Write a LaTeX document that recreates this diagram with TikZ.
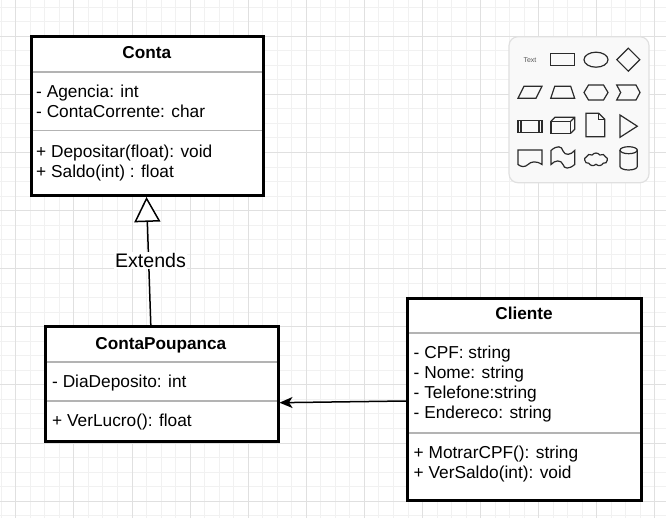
\documentclass[tikz,border=0pt]{standalone}
\usepackage{fontspec}
\setmainfont{Liberation Sans}
\usetikzlibrary{arrows.meta,shapes.symbols}
\definecolor{gminor}{HTML}{F1F1F1}
\definecolor{gmajor}{HTML}{E0E0E0}
\definecolor{sepc}{HTML}{B3B3B3}
\definecolor{iconc}{HTML}{2B2B2B}
\definecolor{palfill}{HTML}{F9F9F9}
\definecolor{palline}{HTML}{E0E0E0}
\begin{document}
\begin{tikzpicture}[x=1pt,y=-1pt,
  minorline/.style={gminor, line width=1pt},
  majorline/.style={gmajor, line width=1pt},
  classbox/.style={draw=black, line width=3pt, fill=white, inner sep=0pt},
  sepline/.style={sepc, line width=1.6pt},
  txt/.style={inner sep=0pt, anchor=base west, font=\fontsize{17.3}{20}\selectfont},
  ttl/.style={inner sep=0pt, anchor=base, font=\fontsize{17.2}{20}\selectfont\bfseries},
  conn/.style={black, line width=1.5pt},
  icn/.style={draw=iconc, line width=1.2pt, line join=miter}
]
\useasboundingbox (0,0) rectangle (666,518);
\fill[white] (0,0) rectangle (666,518);
% grid
\foreach \i in {0,...,45} { \draw[minorline] ({1.3+14.525*\i},0) -- ({1.3+14.525*\i},518); }
\foreach \j in {0,...,35} { \draw[minorline] (0,{7.25+14.525*\j}) -- (666,{7.25+14.525*\j}); }
\foreach \k in {0,...,11} { \draw[majorline] ({15.8+58.1*\k},0) -- ({15.8+58.1*\k},518); }
\foreach \k in {0,...,8} { \draw[majorline] (0,{36.3+58.1*\k}) -- (666,{36.3+58.1*\k}); }

% palette
\draw[palline, line width=1.2pt, fill=palfill, rounded corners=9pt] (509,36.7) rectangle (649,182.7);
\node[inner sep=0pt, text=black!65, font=\fontsize{7}{8}\selectfont] (ptext) at (530,59.7) {Text};
\draw[icn] (550.7,53.7) rectangle (574.7,65.7);
\draw[icn] (596,59.7) ellipse [x radius=12pt, y radius=7.5pt];
\draw[icn] (628.3,48.2) -- (639.8,59.7) -- (628.3,71.2) -- (616.8,59.7) -- cycle;
\draw[icn] (518,98.3) -- (536,98.3) -- (542,86.3) -- (524,86.3) -- cycle;
\draw[icn] (550.7,98.3) -- (574.7,98.3) -- (570.7,86.3) -- (554.7,86.3) -- cycle;
\draw[icn] (584,92.5) -- (588.5,85) -- (603.5,85) -- (608,92.5) -- (603.5,100) -- (588.5,100) -- cycle;
\draw[icn] (616.7,85) -- (636,85) -- (640,92.5) -- (636,100) -- (616.7,100) -- (620.7,92.5) -- cycle;
\draw[icn] (518,120.5) rectangle (542,132.5);
\draw[icn] (521,120.5) -- (521,132.5) (539,120.5) -- (539,132.5);
\draw[icn] (551,121.3) rectangle (570.7,133.3);
\draw[icn] (551,121.3) -- (555,117.3) -- (574.7,117.3) -- (574.7,129.3) -- (570.7,133.3);
\draw[icn] (570.7,121.3) -- (574.7,117.3);
\draw[icn] (586,113.3) -- (598.7,113.3) -- (604.7,119.3) -- (604.7,136.7) -- (586,136.7) -- cycle;
\draw[icn] (598.7,113.3) -- (598.7,119.3) -- (604.7,119.3);
\draw[icn] (620,115) -- (637.3,126.2) -- (620,137.3) -- cycle;
\draw[icn] (518,150) -- (542,150) -- (542,164.5) .. controls (536,160.5) and (531,161.5) .. (528,164.5) .. controls (525,167.5) and (521,167) .. (518,164.5) -- cycle;
\draw[icn] (551,150.5) .. controls (557,145) and (562,146) .. (563,151) .. controls (565,156) and (571,155) .. (574.7,150.5) -- (574.7,164.5) .. controls (569,169.5) and (564,169) .. (563,164.5) .. controls (561,159.5) and (555,160) .. (551,164.5) -- cycle;
\node[cloud, cloud puffs=9, cloud puff arc=110, aspect=1.9, draw=iconc, line width=1.2pt, minimum width=23pt, minimum height=13pt, inner sep=0pt] (pcloud) at (596,159.5) {};
\draw[icn] (628.65,150.2) ellipse [x radius=8.65pt, y radius=3.5pt];
\draw[icn] (620,150.2) -- (620,166.5) .. controls (620,168.43) and (623.87,170) .. (628.65,170) .. controls (633.43,170) and (637.3,168.43) .. (637.3,166.5) -- (637.3,150.2);

% class boxes
\node[classbox, minimum width=232pt, minimum height=158.5pt] (conta) at (147,116.2) {};
\node[classbox, minimum width=233pt, minimum height=115pt] (poupanca) at (161.5,384.2) {};
\node[classbox, minimum width=233.7pt, minimum height=202.4pt] (cliente) at (524.2,399.5) {};

\draw[sepline] (32.5,72) -- (261.5,72);
\draw[sepline] (32.5,130.7) -- (261.5,130.7);
\draw[sepline] (46.5,362) -- (276.5,362);
\draw[sepline] (46.5,400.7) -- (276.5,400.7);
\draw[sepline] (408.8,332.7) -- (639.5,332.7);
\draw[sepline] (408.8,432.7) -- (639.5,432.7);

% Conta texts
\node[ttl] (contaT) at (146.7,58.3) {Conta};
\node[txt] (contaA1) at (36,97.7) {- Agencia: int};
\node[txt] (contaA2) at (36,117.7) {- ContaCorrente: char};
\node[txt] (contaM1) at (36,157.7) {+ Depositar(float): void};
\node[txt] (contaM2) at (36,177.7) {+ Saldo(int) : float};

% ContaPoupanca texts
\node[ttl] (poupT) at (160.8,349) {ContaPoupanca};
\node[txt] (poupA1) at (52,387.7) {- DiaDeposito: int};
\node[txt] (poupM1) at (52,426.3) {+ VerLucro(): float};

% Cliente texts
\node[ttl] (cliT) at (524,319.3) {Cliente};
\node[txt] (cliA1) at (413.5,358.3) {- CPF: string};
\node[txt] (cliA2) at (413.5,378.3) {- Nome: string};
\node[txt] (cliA3) at (413.5,398.3) {- Telefone:string};
\node[txt] (cliA4) at (413.5,418.3) {- Endereco: string};
\node[txt] (cliM1) at (413.5,458.3) {+ MotrarCPF(): string};
\node[txt] (cliM2) at (413.5,478.3) {+ VerSaldo(int): void};

% connectors
\draw[conn, -{Triangle[length=25pt, width=26pt, fill=white]}] ([xshift=107.3pt]poupanca.north west) -- ([xshift=117pt]conta.south west);
\node[fill=white, inner sep=1.5pt, anchor=base, font=\fontsize{19.6}{22}\selectfont] (ext) at (150.5,267.3) {Extends};
\draw[conn, -{Stealth[length=13pt, width=11pt, inset=3.5pt]}] ([yshift=-1.5pt]cliente.west) -- ([yshift=-18.5pt]poupanca.east);
\end{tikzpicture}
\end{document}
